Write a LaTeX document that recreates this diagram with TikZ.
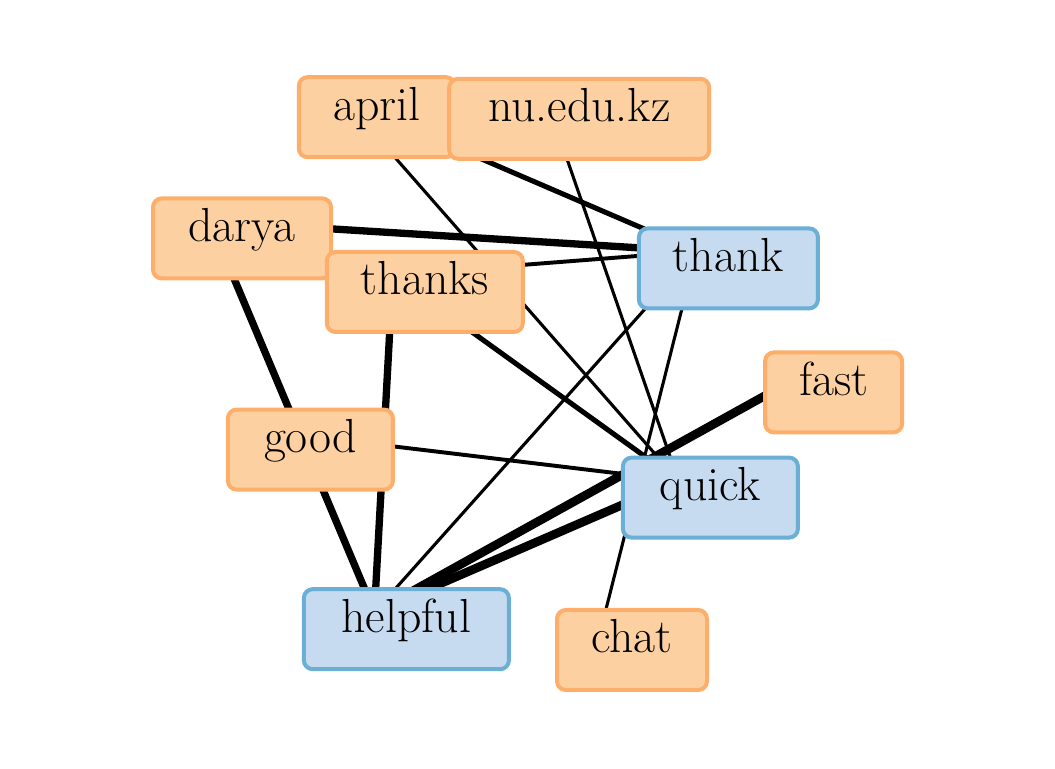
\documentclass[tikz,border=0pt]{standalone}

\definecolor{orangefill}{HTML}{FDD0A2}
\definecolor{orangeline}{HTML}{FDAE6B}
\definecolor{bluefill}{HTML}{C6DBEF}
\definecolor{blueline}{HTML}{6BAED6}

\begin{document}
\begin{tikzpicture}[-,auto,
  label box/.style={rectangle,rounded corners=0.22cm,line width=0.1cm,
    inner xsep=0.7cm,inner ysep=0pt,text height=1.075cm,text depth=0.925cm,
    font=\fontsize{34}{40}\selectfont,xshift=0.8cm,yshift=-0.425cm},
  word node/.style={label box,fill=orangefill,draw=orangeline},
  main node/.style={label box,fill=bluefill,draw=blueline},
  w1/.style={line width=2.2pt},
  w2/.style={line width=2.8pt},
  w3/.style={line width=3.6pt},
  w4/.style={line width=5.2pt},
  w5/.style={line width=6.2pt}]

  \useasboundingbox (0,0) rectangle (26.375,19.225);

  % vertex positions
  \coordinate (april) at (8.62,16.72);
  \coordinate (nu) at (13.68,16.68);
  \coordinate (darya) at (5.25,13.69);
  \coordinate (thanks) at (9.82,12.35);
  \coordinate (thank) at (17.41,12.94);
  \coordinate (fast) at (20.04,9.84);
  \coordinate (good) at (6.96,8.41);
  \coordinate (quick) at (16.96,7.21);
  \coordinate (helpful) at (9.36,3.92);
  \coordinate (chat) at (15.0,3.4);

  \path
    (april) edge[w1] (quick)
            edge[w3] (thank)
    (nu) edge[w1] (quick)
    (darya) edge[w4] (thank)
            edge[w4] (helpful)
    (thanks) edge[w2] (thank)
             edge[w4] (helpful)
             edge[w3] (quick)
    (thank) edge[w1] (helpful)
            edge[w1] (chat)
    (good) edge[w2] (quick)
    (fast) edge[w5] (helpful)
    (quick) edge[w5] (helpful);

  \node[word node,minimum width=3.9cm] (april box) at (april) {april};
  \node[word node,minimum width=6.5cm] (nu box) at (nu) {nu.edu.kz};
  \node[word node,minimum width=4.45cm] (darya box) at (darya) {darya};
  \node[word node,minimum width=4.9cm] (thanks box) at (thanks) {thanks};
  \node[main node,minimum width=4.475cm] (thank box) at (thank) {thank};
  \node[word node,minimum width=3.425cm] (fast box) at (fast) {fast};
  \node[word node,minimum width=4.125cm] (good box) at (good) {good};
  \node[main node,minimum width=4.375cm] (quick box) at (quick) {quick};
  \node[main node,minimum width=5.125cm] (helpful box) at (helpful) {helpful};
  \node[word node,minimum width=3.75cm] (chat box) at (chat) {chat};
\end{tikzpicture}
\end{document}
